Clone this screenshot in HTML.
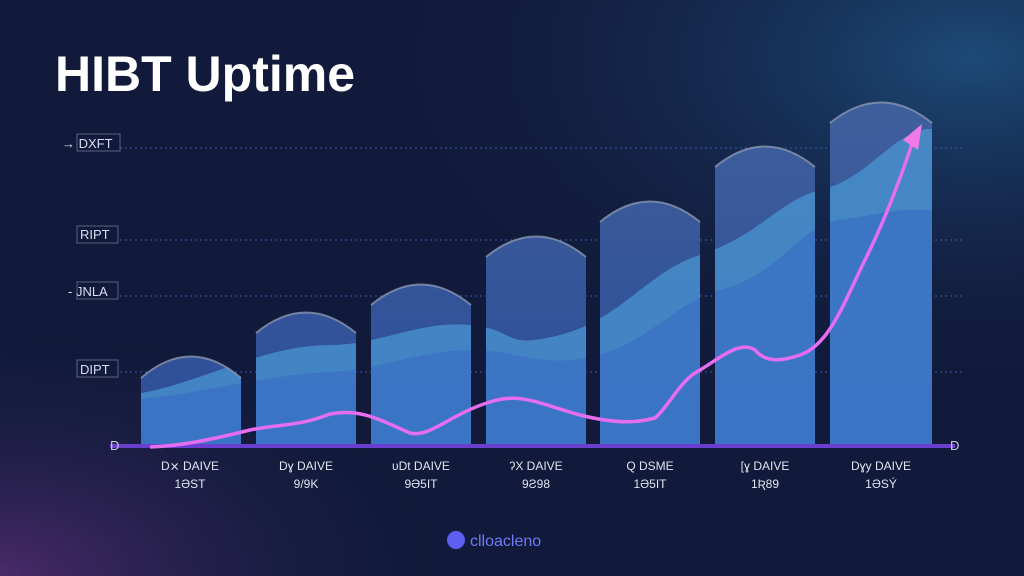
<!DOCTYPE html>
<html><head><meta charset="utf-8"><style>
html,body{margin:0;padding:0;width:1024px;height:576px;overflow:hidden;background:#0f1836}
svg{display:block}
text{font-family:"Liberation Sans",sans-serif}
</style></head><body>
<svg width="1024" height="576" viewBox="0 0 1024 576" xmlns="http://www.w3.org/2000/svg">
<defs>
<radialGradient id="bg1" cx="0.95" cy="0.1" r="0.6"><stop offset="0" stop-color="#1d4a78"/><stop offset="1" stop-color="#121c3e" stop-opacity="0"/></radialGradient>
<radialGradient id="bg2" cx="0" cy="1" r="0.45"><stop offset="0" stop-color="#4a2a6a"/><stop offset="1" stop-color="#121c3e" stop-opacity="0"/></radialGradient>
<linearGradient id="bar" x1="0" y1="0" x2="0" y2="1"><stop offset="0" stop-color="#40609c"/><stop offset="1" stop-color="#2c4c98"/></linearGradient>
<clipPath id="bars">
<path d="M141,445 V378 Q191,335 241,378 V445Z M256,445 V333 Q306,292 356,333 V445Z M371,445 V305 Q421,264 471,305 V445Z M486,445 V257 Q536,216 586,257 V445Z M600,445 V222 Q650,181 700,222 V445Z M715,445 V167 Q765,126 815,167 V445Z M830,445 V123 Q881,82 932,123 V445Z"/>
</clipPath>
</defs>
<rect width="1024" height="576" fill="#111a3a"/>
<rect width="1024" height="576" fill="url(#bg1)"/>
<rect width="1024" height="576" fill="url(#bg2)"/>
<text x="55" y="91" font-size="50" font-weight="bold" fill="#ffffff">HIBT Uptime</text>
<g stroke="#3a5aa8" stroke-width="1" stroke-dasharray="2,3">
<line x1="120" y1="148" x2="965" y2="148"/><line x1="120" y1="240" x2="965" y2="240"/>
<line x1="120" y1="296" x2="965" y2="296"/><line x1="120" y1="372" x2="965" y2="372"/>
</g>
<g font-size="13" fill="#d8def0">
<text x="62" y="148">→ DXFT</text><text x="80" y="239">RIPT</text><text x="68" y="296">- JNLA</text><text x="80" y="374">DIPT</text>
</g>
<g fill="none" stroke="#8a96b0" stroke-width="1" opacity="0.6">
<rect x="77" y="134" width="43" height="17"/><rect x="77" y="226" width="41" height="17"/><rect x="77" y="282" width="41" height="17"/><rect x="77" y="360" width="41" height="17"/>
</g>
<g clip-path="url(#bars)">
<rect x="130" y="80" width="810" height="370" fill="url(#bar)"/>
<path d="M130,395 C200,385 260,345 330,345 C380,345 420,320 470,325 C520,330 500,350 560,335 C620,320 650,270 700,255 C760,235 780,200 820,190 C870,180 900,120 940,130 V450 H130Z" fill="#4a9ad6" opacity="0.7"/>
<path d="M130,400 C200,395 260,375 330,372 C380,370 420,350 470,350 C520,350 540,370 600,355 C650,340 680,300 720,290 C780,275 800,225 840,220 C880,215 900,205 940,212 V450 H130Z" fill="#3a72c4" opacity="0.85"/>
</g>
<g fill="none" stroke="#8a96b0" stroke-width="2" opacity="0.8">
<path d="M141,378 Q191,335 241,378"/><path d="M256,333 Q306,292 356,333"/><path d="M371,305 Q421,264 471,305"/><path d="M486,257 Q536,216 586,257"/><path d="M600,222 Q650,181 700,222"/><path d="M715,167 Q765,126 815,167"/><path d="M830,123 Q881,82 932,123"/>
</g>
<rect x="110" y="444" width="845" height="4" fill="#6a3fd0"/>
<text x="110" y="450" font-size="13" fill="#ccd">D</text><text x="950" y="450" font-size="13" fill="#ccd">D</text>
<path d="M150,447 C180,446 210,440 250,430 C280,424 300,426 330,414 C360,408 380,420 410,433 C430,438 450,414 490,402 C520,392 540,404 580,415 C620,425 640,422 655,418 C670,405 680,380 700,370 C720,358 740,340 755,350 C765,362 780,362 800,355 C830,345 845,300 865,260 C885,220 900,180 915,135" fill="none" stroke="#e56ef0" stroke-width="3.5"/>
<path d="M903,140 L922,124 L918,150Z" fill="#f07ae8"/>
<g font-size="12" fill="#e0e4f0" text-anchor="middle">
<text x="190" y="470">D⨯ DAIVE</text><text x="190" y="488">1ƏST</text>
<text x="306" y="470">Dɣ DAIVE</text><text x="306" y="488">9/9K</text>
<text x="421" y="470">ᴜDt DAIVE</text><text x="421" y="488">9Ə5IT</text>
<text x="536" y="470">ʔX DAIVE</text><text x="536" y="488">9Ƨ98</text>
<text x="650" y="470">Q DSME</text><text x="650" y="488">1Ə5IT</text>
<text x="765" y="470">[ɣ DAIVE</text><text x="765" y="488">1Ʀ89</text>
<text x="881" y="470">Dɣy DAIVE</text><text x="881" y="488">1ƏSÝ</text>
</g>
<circle cx="456" cy="540" r="9" fill="#5a5ff0"/>
<text x="470" y="546" font-size="16" fill="#6f7cf4">clloacleno</text>
</svg>
</body></html>
